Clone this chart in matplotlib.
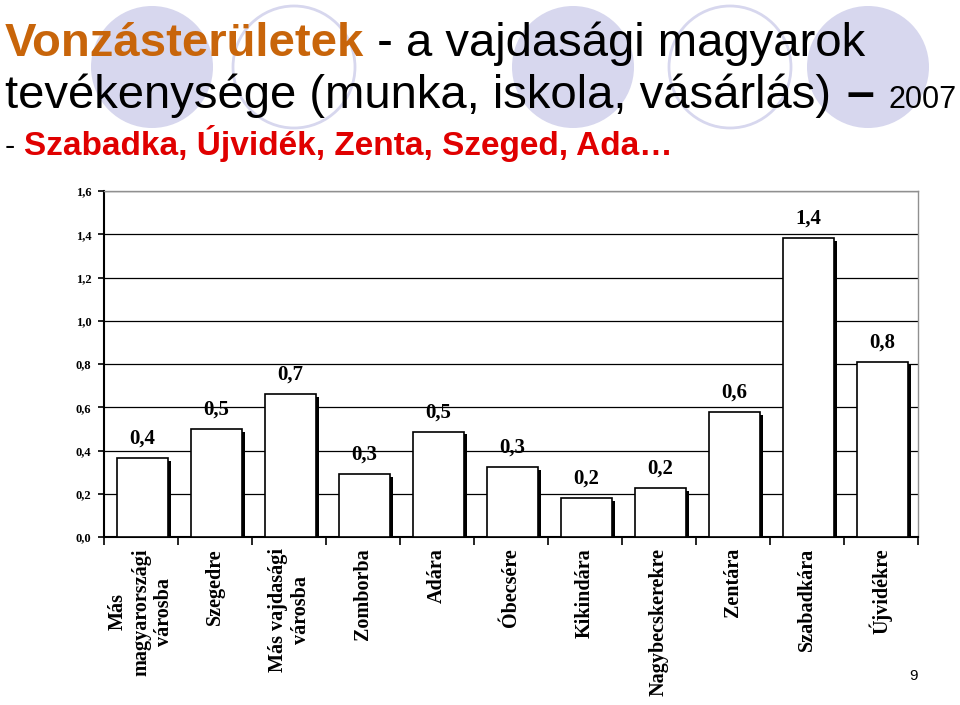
import matplotlib
matplotlib.use("Agg")
import matplotlib.pyplot as plt
from matplotlib.patches import Circle
import numpy as np

# data
categories = ["Más\nmagyarországi\nvárosba", "Szegedre", "Más vajdasági\nvárosba",
              "Zomborba", "Adára", "Óbecsére", "Kikindára", "Nagybecskerekre",
              "Zentára", "Szabadkára", "Újvidékre"]
values = [0.365, 0.499, 0.661, 0.291, 0.486, 0.324, 0.180, 0.227, 0.578, 1.383, 0.809]
yticks = [0.0, 0.2, 0.4, 0.6, 0.8, 1.0, 1.2, 1.4, 1.6]

serif = ["Liberation Serif", "DejaVu Serif"]
sans = ["Liberation Sans", "DejaVu Sans"]

fig = plt.figure(figsize=(9.6, 7.05), dpi=100)
renderer = fig.canvas.get_renderer()

# background overlay in pixel coords (decorative circles + title)
bg = fig.add_axes([0, 0, 1, 1])
bg.set_xlim(0, 960)
bg.set_ylim(705, 0)
bg.axis("off")
lav = "#d7d7ee"
for cx, filled in [(152, True), (294, False), (573, True), (730, False), (868, True)]:
    if filled:
        bg.add_patch(Circle((cx, 67), 61, facecolor=lav, edgecolor="none", zorder=0))
    else:
        bg.add_patch(Circle((cx, 67), 61, facecolor="none", edgecolor=lav, lw=2, zorder=0))


def line(x, y, parts):
    # draw text pieces one after another on a shared baseline
    for txt, gap, kw in parts:
        t = bg.text(x + gap, y, txt, family=sans, va="baseline", ha="left", **kw)
        x = t.get_window_extent(renderer).x1


line(5, 56, [("Vonzásterületek", 0, dict(fontsize=34, weight="bold", color="#c8650a")),
             ("\u00a0- a vajdasági magyarok", 0, dict(fontsize=34, color="black"))])
line(5, 108, [("tevékenysége (munka, iskola, vásárlás)", 0, dict(fontsize=34, color="black")),
              ("\u2013", 16, dict(fontsize=36, weight="bold", color="black")),
              ("2007", 14, dict(fontsize=22, color="black"))])
line(5, 155, [("-\u00a0", 0, dict(fontsize=22, color="black")),
              ("Szabadka, Újvidék, Zenta, Szeged, Ada\u2026", 0,
               dict(fontsize=24, weight="bold", color="#e00000"))])
bg.text(913, 676, "9", family=sans, fontsize=11, ha="center", va="center")

# chart
ax = fig.add_axes([104 / 960, 1 - 537 / 705, 814 / 960, 346 / 705])
ax.patch.set_alpha(0)
x = np.arange(len(categories))
w = 0.68
off = 0.02
ax.bar(x + off + 0.047, np.array(values) - 0.012, width=w, color="black",
       edgecolor="none", zorder=2)
ax.bar(x + off, values, width=w, color="white", edgecolor="black", lw=1.2, zorder=3)
for xi, v in zip(x, values):
    ax.annotate(f"{v:.1f}".replace(".", ","), xy=(xi + off, v), xytext=(0, 14),
                textcoords="offset points", ha="center", va="center",
                family=serif, fontsize=15, weight="bold", zorder=4)

ax.set_xlim(-0.5, len(categories) - 0.5)
ax.set_ylim(0, 1.6)
ax.set_yticks(yticks)
ax.set_yticklabels([f"{t:.1f}".replace(".", ",") for t in yticks],
                   family=serif, fontsize=9, weight="bold")
ax.yaxis.grid(True, color="black", lw=0.9)
ax.set_axisbelow(True)
ax.tick_params(axis="y", direction="out", length=4, width=1.2, pad=5)

ax.set_xticks(x)
ax.set_xticklabels(categories, rotation=90, va="top", ha="center",
                   multialignment="center", family=serif, fontsize=14.5,
                   weight="bold", linespacing=1.2)
ax.set_xticks(np.arange(len(categories) + 1) - 0.5, minor=True)
ax.tick_params(axis="x", which="major", length=0, pad=8)
ax.tick_params(axis="x", which="minor", direction="out", length=6, width=1.2)

for s in ["left", "bottom"]:
    ax.spines[s].set_linewidth(1.5)
for s in ["top", "right"]:
    ax.spines[s].set_color("#909090")
    ax.spines[s].set_linewidth(1)

fig.savefig("out.png", dpi=100)
